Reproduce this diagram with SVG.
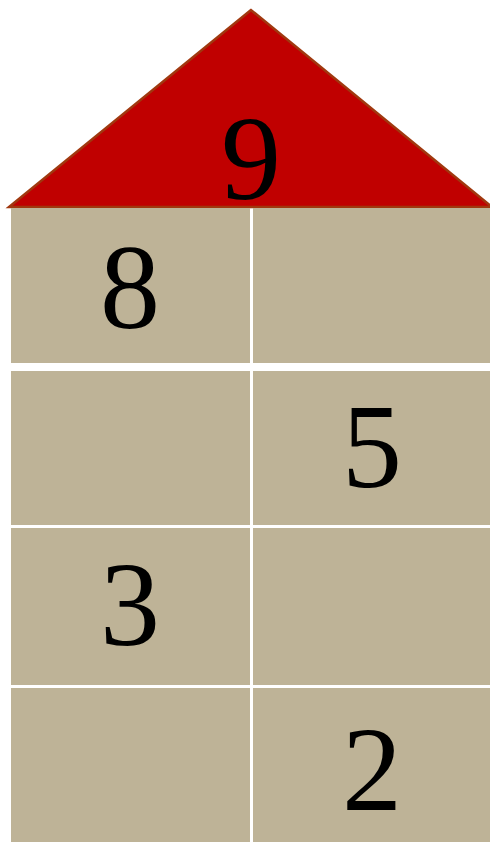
<svg xmlns="http://www.w3.org/2000/svg" width="490" height="842" viewBox="0 0 490 842">
<style>
.cell{fill:#BEB397}
.num{font-family:"Liberation Serif","Times New Roman",serif;font-size:120px;fill:#000;text-anchor:middle}
</style>
<rect width="490" height="842" fill="#fff"/>
<g id="roof">
<polygon points="251,10 9,207 492,207" fill="#C00000" stroke="#A0380F" stroke-width="2.5" stroke-linejoin="miter"/>
<text class="num" x="251" y="199">9</text>
</g>
<g id="r1c1"><rect class="cell" x="11" y="208" width="239" height="155"/><text class="num" x="130" y="328">8</text></g>
<g id="r1c2"><rect class="cell" x="253" y="208" width="237" height="155"/></g>
<g id="r2c1"><rect class="cell" x="11" y="371" width="239" height="154"/></g>
<g id="r2c2"><rect class="cell" x="253" y="371" width="237" height="154"/><text class="num" x="372" y="487">5</text></g>
<g id="r3c1"><rect class="cell" x="11" y="528" width="239" height="157"/><text class="num" x="130" y="645">3</text></g>
<g id="r3c2"><rect class="cell" x="253" y="528" width="237" height="157"/></g>
<g id="r4c1"><rect class="cell" x="11" y="688" width="239" height="154"/></g>
<g id="r4c2"><rect class="cell" x="253" y="688" width="237" height="154"/><text class="num" x="372" y="810">2</text></g>
<g id="connectors"/>
</svg>
